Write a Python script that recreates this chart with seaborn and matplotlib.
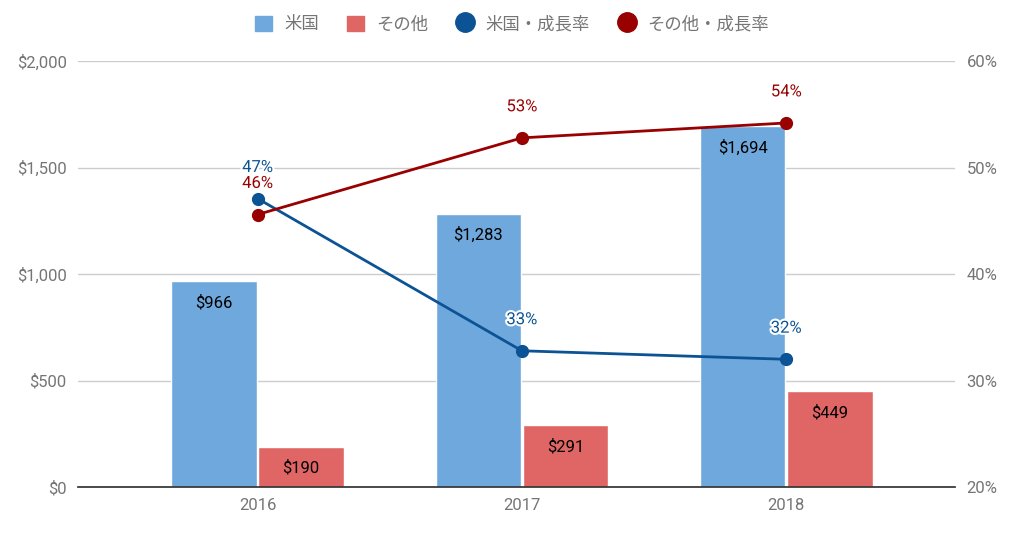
import pandas as pd
import matplotlib.pyplot as plt
import matplotlib.patheffects as pe
from matplotlib.lines import Line2D
from matplotlib.patches import Patch
import seaborn as sns

# data
years = ["2016", "2017", "2018"]
us_sales = [966, 1283, 1694]
other_sales = [190, 291, 449]
us_growth = [47.1, 32.8, 32.0]
other_growth = [45.6, 52.8, 54.2]
series_names = ["米国", "その他"]
growth_names = ["米国・成長率", "その他・成長率"]

bar_colors = ["#6fa8dc", "#e06666"]
line_colors = ["#0b5394", "#990000"]
gray = "#757575"

sns.set_theme(style="white")
plt.rcParams['font.family'] = ['Roboto', 'Noto Sans CJK JP', 'DejaVu Sans']

bars = pd.DataFrame({
    "year": years * 2,
    "value": us_sales + other_sales,
    "series": [series_names[0]] * 3 + [series_names[1]] * 3,
})
growth = pd.DataFrame({
    "year": years * 2,
    "value": us_growth + other_growth,
    "series": [growth_names[0]] * 3 + [growth_names[1]] * 3,
})

fig = plt.figure(figsize=(10.24, 5.37), dpi=100)
ax = fig.add_axes([0.076, 0.093, 0.857, 0.793])

sns.barplot(data=bars, x="year", y="value", hue="series", palette=bar_colors,
            width=0.66, gap=0.02, saturation=1, legend=False, ax=ax, zorder=2)

# bar value labels just inside the top of each bar
for cont, vals in zip(ax.containers, [us_sales, other_sales]):
    ax.bar_label(cont, labels=[f"${v:,}" for v in vals], padding=-21,
                 fontsize=12, color="black")

ax.set_ylim(0, 2000)
ax.set_yticks([0, 500, 1000, 1500, 2000])
ax.set_yticklabels([f"${v:,}" for v in [0, 500, 1000, 1500, 2000]])
ax.grid(axis="y", color="#cccccc", linewidth=1, zorder=0)
ax.set_axisbelow(True)
ax.set_xlabel("")
ax.set_ylabel("")
for s in ["top", "left", "right"]:
    ax.spines[s].set_visible(False)
ax.spines["bottom"].set_color("#333333")
ax.tick_params(axis="both", length=0, colors=gray, labelsize=12, pad=8)

ax2 = ax.twinx()
sns.pointplot(data=growth, x="year", y="value", hue="series", palette=line_colors,
              markers="o", markersize=8, linewidth=2, legend=False, ax=ax2)

for vals, col in zip([us_growth, other_growth], line_colors):
    for i, v in enumerate(vals):
        t = ax2.annotate(f"{round(v)}%", (i, v), xytext=(0, 17),
                         textcoords="offset points", ha="center", va="bottom",
                         fontsize=12, color=col)
        t.set_path_effects([pe.withStroke(linewidth=3, foreground="white")])

ax2.set_ylim(20, 60)
ax2.set_yticks([20, 30, 40, 50, 60])
ax2.set_yticklabels([f"{v}%" for v in [20, 30, 40, 50, 60]])
ax2.set_ylabel("")
ax2.grid(False)
for s in ax2.spines.values():
    s.set_visible(False)
ax2.tick_params(axis="y", length=0, colors=gray, labelsize=12, pad=8)

ax.set_xlim(-0.68, 2.64)

handles = [Patch(color=bar_colors[0]), Patch(color=bar_colors[1]),
           Line2D([], [], marker="o", color=line_colors[0], linestyle="", markersize=14),
           Line2D([], [], marker="o", color=line_colors[1], linestyle="", markersize=14)]
fig.legend(handles, series_names + growth_names, loc="upper center",
           bbox_to_anchor=(0.5, 1.0), ncol=4, frameon=False, fontsize=12.5,
           labelcolor=gray, handlelength=1.0, handleheight=1.0,
           handletextpad=0.7, columnspacing=1.6)

fig.savefig("out.png", dpi=100)
